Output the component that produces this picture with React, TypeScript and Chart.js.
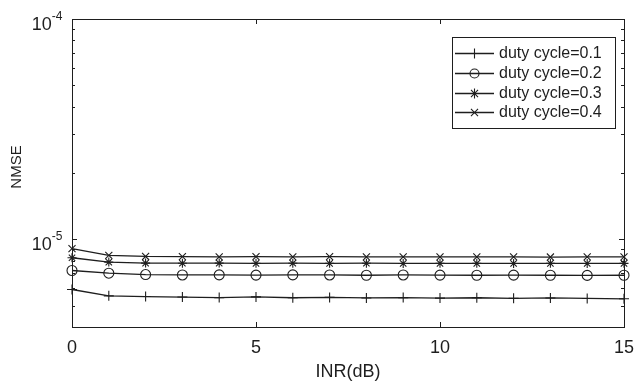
import React, { useEffect, useRef } from 'react';
import { Chart, registerables } from 'chart.js';

Chart.register(...registerables);

const inr = [0, 1, 2, 3, 4, 5, 6, 7, 8, 9, 10, 11, 12, 13, 14, 15];
const duty01 = [5.92e-6, 5.54e-6, 5.5e-6, 5.47e-6, 5.44e-6, 5.48e-6, 5.43e-6, 5.45e-6, 5.42e-6, 5.44e-6, 5.41e-6, 5.43e-6, 5.4e-6, 5.42e-6, 5.39e-6, 5.37e-6];
const duty02 = [7.22e-6, 7.02e-6, 6.92e-6, 6.89e-6, 6.9e-6, 6.88e-6, 6.9e-6, 6.89e-6, 6.87e-6, 6.89e-6, 6.88e-6, 6.87e-6, 6.88e-6, 6.87e-6, 6.86e-6, 6.87e-6];
const duty03 = [8.25e-6, 7.88e-6, 7.8e-6, 7.79e-6, 7.8e-6, 7.78e-6, 7.79e-6, 7.78e-6, 7.79e-6, 7.77e-6, 7.78e-6, 7.78e-6, 7.77e-6, 7.78e-6, 7.77e-6, 7.78e-6];
const duty04 = [9.07e-6, 8.46e-6, 8.36e-6, 8.34e-6, 8.33e-6, 8.35e-6, 8.33e-6, 8.34e-6, 8.33e-6, 8.32e-6, 8.33e-6, 8.32e-6, 8.32e-6, 8.31e-6, 8.32e-6, 8.33e-6];
const seriesLabels = ['duty cycle=0.1', 'duty cycle=0.2', 'duty cycle=0.3', 'duty cycle=0.4'];
const seriesMarkers = ['cross', 'circle', 'star', 'crossRot'];
const xTickValues = [0, 5, 10, 15];
const yMajorValues = [1e-5, 1e-4];
const yMajorExponents = ['-5', '-4'];
const yMinorValues = [5e-6, 6e-6, 7e-6, 8e-6, 9e-6, 2e-5, 3e-5, 4e-5, 5e-5, 6e-5, 7e-5, 8e-5, 9e-5];
const yTitle = 'NMSE';
const xTitle = 'INR(dB)';

const FONT = "'Liberation Sans', Arial, sans-serif";
const INK = '#1e1e1e';

function drawMarker(ctx: CanvasRenderingContext2D, style: string, x: number, y: number, r: number) {
  ctx.beginPath();
  if (style === 'cross') {
    ctx.moveTo(x - r, y); ctx.lineTo(x + r, y);
    ctx.moveTo(x, y - r); ctx.lineTo(x, y + r);
  } else if (style === 'circle') {
    ctx.arc(x, y, r, 0, Math.PI * 2);
  } else if (style === 'star') {
    const d = r * Math.SQRT1_2;
    ctx.moveTo(x - r, y); ctx.lineTo(x + r, y);
    ctx.moveTo(x, y - r); ctx.lineTo(x, y + r);
    ctx.moveTo(x - d, y - d); ctx.lineTo(x + d, y + d);
    ctx.moveTo(x - d, y + d); ctx.lineTo(x + d, y - d);
  } else {
    const d = r * Math.SQRT1_2;
    ctx.moveTo(x - d, y - d); ctx.lineTo(x + d, y + d);
    ctx.moveTo(x - d, y + d); ctx.lineTo(x + d, y - d);
  }
  ctx.stroke();
}

const framePlugin = {
  id: 'matlabFrame',
  afterDraw(chart: any) {
    const ctx: CanvasRenderingContext2D = chart.ctx;
    const { left, right, top, bottom } = chart.chartArea;
    const xs = chart.scales.x;
    const ys = chart.scales.y;
    ctx.save();
    ctx.strokeStyle = INK;
    ctx.lineWidth = 1;
    ctx.strokeRect(Math.round(left) + 0.5, Math.round(top) + 0.5, Math.round(right - left), Math.round(bottom - top));
    ctx.beginPath();
    for (const v of xTickValues) {
      const px = Math.round(xs.getPixelForValue(v)) + 0.5;
      ctx.moveTo(px, bottom); ctx.lineTo(px, bottom - 5);
      ctx.moveTo(px, top); ctx.lineTo(px, top + 5);
    }
    for (const v of yMajorValues) {
      const py = Math.round(ys.getPixelForValue(v)) + 0.5;
      ctx.moveTo(left, py); ctx.lineTo(left + 5, py);
      ctx.moveTo(right, py); ctx.lineTo(right - 5, py);
    }
    for (const v of yMinorValues) {
      const py = Math.round(ys.getPixelForValue(v)) + 0.5;
      ctx.moveTo(left, py); ctx.lineTo(left + 3, py);
      ctx.moveTo(right, py); ctx.lineTo(right - 3, py);
    }
    ctx.stroke();

    // y tick labels 10^n
    ctx.fillStyle = INK;
    ctx.textBaseline = 'alphabetic';
    yMajorValues.forEach((v, i) => {
      const py = ys.getPixelForValue(v);
      ctx.font = `12px ${FONT}`;
      ctx.textAlign = 'right';
      const supW = ctx.measureText(yMajorExponents[i]).width;
      ctx.fillText(yMajorExponents[i], 62.5, py + 1);
      ctx.font = `18px ${FONT}`;
      ctx.fillText('10', 62.5 - supW, py + 10.5);
    });

    // y title
    ctx.save();
    ctx.translate(16.5, 167);
    ctx.rotate(-Math.PI / 2);
    ctx.font = `15px ${FONT}`;
    ctx.textAlign = 'center';
    ctx.textBaseline = 'middle';
    ctx.fillText(yTitle, 0, 0);
    ctx.restore();

    // legend
    const bx = 452.5, by = 37.5, bw = 163, bh = 91;
    ctx.fillStyle = '#ffffff';
    ctx.fillRect(bx, by, bw, bh);
    ctx.strokeRect(bx, by, bw, bh);
    ctx.font = `16px ${FONT}`;
    ctx.textAlign = 'left';
    ctx.textBaseline = 'middle';
    const rows = [53, 73, 93, 112];
    seriesLabels.forEach((lab, i) => {
      const ry = rows[i] + 0.5;
      ctx.lineWidth = 1.3;
      ctx.beginPath();
      ctx.moveTo(455, ry); ctx.lineTo(494, ry);
      ctx.stroke();
      ctx.lineWidth = 1.1;
      drawMarker(ctx, seriesMarkers[i], 474.5, ry, seriesMarkers[i] === 'circle' ? 4.5 : 5);
      ctx.fillStyle = INK;
      ctx.fillText(lab, 499, rows[i] + 1);
    });
    ctx.restore();
  },
};

export default function App() {
  const ref = useRef<HTMLCanvasElement>(null);
  useEffect(() => {
    if (!ref.current) return;
    const allSeries = [duty01, duty02, duty03, duty04];
    const chart = new Chart(ref.current, {
      type: 'line',
      data: {
        datasets: allSeries.map((s, i) => ({
          label: seriesLabels[i],
          data: inr.map((x, j) => ({ x, y: s[j] })),
          borderColor: INK,
          borderWidth: 1.3,
          pointStyle: seriesMarkers[i] as any,
          pointRadius: seriesMarkers[i] === 'star' ? 4.5 : 5,
          pointBorderWidth: 1.1,
          pointBorderColor: INK,
          pointBackgroundColor: 'rgba(0,0,0,0)',
          fill: false,
          tension: 0,
          clip: false as any,
        })),
      },
      options: {
        animation: false,
        responsive: false,
        layout: { padding: { top: 19, right: 10, left: 0, bottom: 0 } },
        plugins: { legend: { display: false }, tooltip: { enabled: false } },
        scales: {
          x: {
            type: 'linear',
            min: 0,
            max: 15,
            grid: { display: false, drawTicks: false },
            border: { display: false },
            ticks: {
              stepSize: 5,
              color: INK,
              padding: 10,
              font: { family: FONT, size: 18 },
              maxRotation: 0,
            },
            title: {
              display: true,
              text: xTitle,
              color: INK,
              font: { family: FONT, size: 18 },
              padding: { top: 0, bottom: 2 },
            },
            afterFit: (s: any) => { s.height = 58; s.paddingLeft = 0; s.paddingRight = 0; },
          },
          y: {
            type: 'logarithmic',
            min: 4e-6,
            max: 1e-4,
            grid: { display: false, drawTicks: false },
            border: { display: false },
            ticks: { display: false },
            title: { display: false },
            afterFit: (s: any) => { s.width = 72; s.paddingTop = 0; s.paddingBottom = 0; },
          },
        },
      },
      plugins: [framePlugin],
    });
    return () => chart.destroy();
  }, []);
  return (
    <div style={{ position: 'absolute', left: 0, top: 0, width: 634, height: 385, background: '#fff' }}>
      <canvas ref={ref} width={634} height={385} />
    </div>
  );
}
